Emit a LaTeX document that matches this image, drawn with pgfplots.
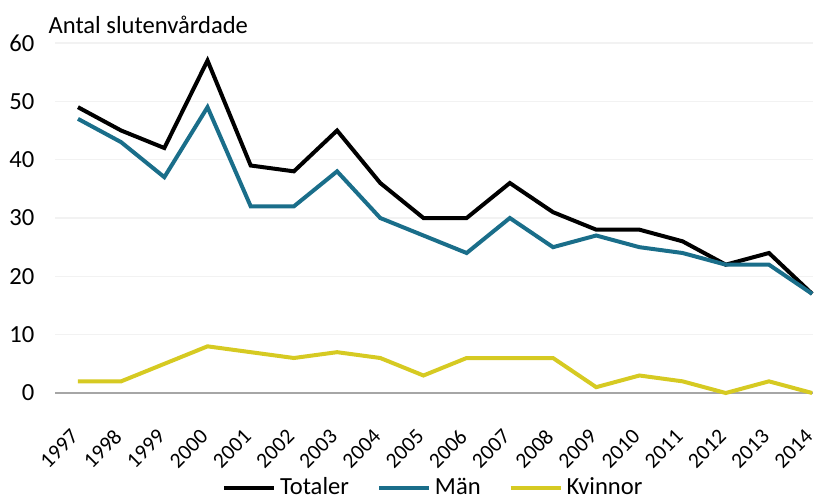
\documentclass[border=0pt]{standalone}
\usepackage{pgfplots}
\pgfplotsset{compat=1.18}
\usepackage{fontspec}
\setmainfont{Carlito}
\definecolor{totcol}{RGB}{0,0,0}
\definecolor{mancol}{RGB}{26,110,138}
\definecolor{kvcol}{RGB}{214,202,34}
\begin{document}
\begin{tikzpicture}
\path[use as bounding box] (-27.75pt,-53pt) rectangle (383.75pt,196.5pt);
\begin{axis}[
  name=ax,
  width=378.75pt, height=175pt,
  scale only axis,
  clip=false,
  font=\fontsize{12.3}{14}\selectfont,
  axis lines*=left,
  x axis line style={gray!70, line width=0.8pt, -},
  y axis line style={draw=none},
  major tick length=0pt,
  xmin=-0.52, xmax=17.02,
  ymin=0, ymax=60,
  ytick={0,10,...,60},
  xtick={0,...,17},
  xticklabels={1997,1998,1999,2000,2001,2002,2003,2004,2005,2006,2007,2008,2009,2010,2011,2012,2013,2014},
  /pgf/number format/assume math mode=true,
  ymajorgrids,
  grid style={gray!10, line width=0.6pt},
  legend columns=3,
  legend style={draw=none, fill=none, at={(0.5,-0.27)}, anchor=center,
    /tikz/every even column/.append style={column sep=12pt},
    font=\fontsize{12.3}{14}\selectfont, inner sep=0pt},
  legend image code/.code={\draw[#1] (0pt,0pt) -- (25pt,0pt);},
  every axis plot/.append style={line width=2pt, line join=miter},
  yticklabel style={xshift=-7pt},
  every x tick label/.style={xshift=-1.5pt, yshift=-20pt, rotate=45, anchor=east, inner sep=0pt,
    font=\fontsize{10.8}{13}\selectfont},
]
\addplot[totcol] coordinates {(0,49)(1,45)(2,42)(3,57)(4,39)(5,38)(6,45)(7,36)(8,30)(9,30)(10,36)(11,31)(12,28)(13,28)(14,26)(15,22)(16,24)(17,17)};
\addlegendentry{Totaler}
\addplot[mancol] coordinates {(0,47)(1,43)(2,37)(3,49)(4,32)(5,32)(6,38)(7,30)(8,27)(9,24)(10,30)(11,25)(12,27)(13,25)(14,24)(15,22)(16,22)(17,17)};
\addlegendentry{Män}
\addplot[kvcol] coordinates {(0,2)(1,2)(2,5)(3,8)(4,7)(5,6)(6,7)(7,6)(8,3)(9,6)(10,6)(11,6)(12,1)(13,3)(14,2)(15,0)(16,2)(17,0)};
\addlegendentry{Kvinnor}
\node[anchor=base west, font=\fontsize{12.3}{14}\selectfont] at ([xshift=-7pt, yshift=5pt]rel axis cs:0,1) {Antal slutenvårdade};
\end{axis}
\end{tikzpicture}
\end{document}
